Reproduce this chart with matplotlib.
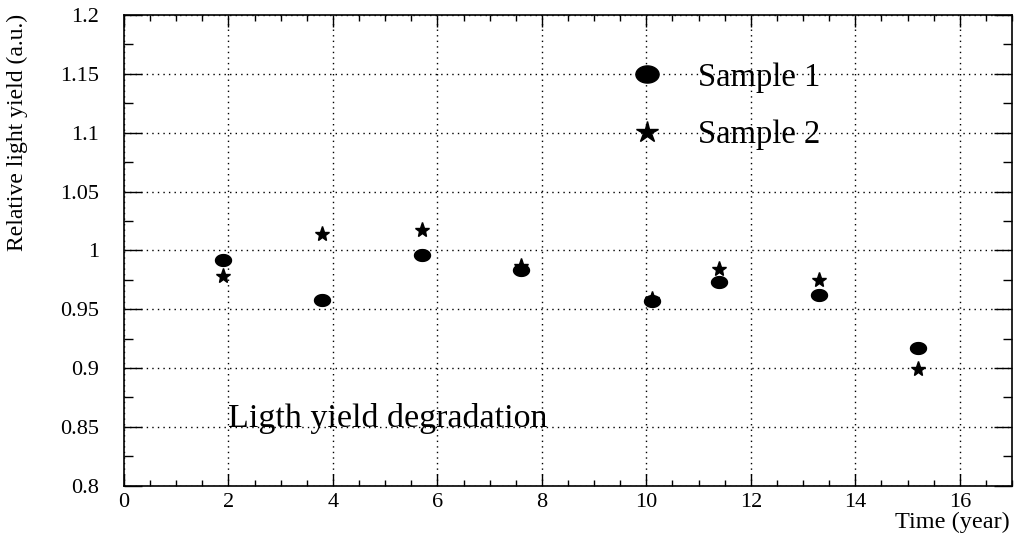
import numpy as np
import matplotlib
matplotlib.use("Agg")
import matplotlib.pyplot as plt
from matplotlib.path import Path
from matplotlib.ticker import MultipleLocator

plt.rcParams['font.family'] = ['Liberation Serif', 'DejaVu Serif']

# Data
time_years = [1.9, 3.8, 5.7, 7.6, 10.1, 11.4, 13.3, 15.2]
sample1 = [0.992, 0.958, 0.996, 0.983, 0.957, 0.973, 0.962, 0.917]
sample2 = [0.978, 1.014, 1.017, 0.987, 0.959, 0.984, 0.975, 0.899]
series_labels = ["Sample 1", "Sample 2"]
ytick_values = [0.8, 0.85, 0.9, 0.95, 1.0, 1.05, 1.1, 1.15, 1.2]
ytick_labels = ["0.8", "0.85", "0.9", "0.95", "1", "1.05", "1.1", "1.15", "1.2"]
annotation = "Ligth yield degradation"
xlabel = "Time (year)"
ylabel = "Relative light yield (a.u.)"

# Elliptical marker (wider than tall, as in the reference)
t = np.linspace(0, 2 * np.pi, 60)
ell = Path(np.column_stack([np.cos(t), 0.74 * np.sin(t)]), closed=True)

fig = plt.figure(figsize=(10.15, 5.38), dpi=100)
ax = fig.add_axes([124/1015, 1 - 485.7/538, (1012-124)/1015, (485.7-15)/538])

ax.plot(time_years, sample1, linestyle='none', marker=ell, markersize=11.5,
        color='black', label=series_labels[0], zorder=3)
ax.plot(time_years, sample2, linestyle='none', marker='*', markersize=11,
        color='black', label=series_labels[1], zorder=3)

ax.set_xlim(0, 17)
ax.set_ylim(0.8, 1.2)
ax.xaxis.set_major_locator(MultipleLocator(2))
ax.xaxis.set_minor_locator(MultipleLocator(0.5))
ax.yaxis.set_minor_locator(MultipleLocator(0.025))
ax.set_yticks(ytick_values)
ax.set_yticklabels(ytick_labels)

ax.grid(True, which='major', color='black', linestyle=(0, (1, 3)), linewidth=1.0)

ax.tick_params(axis='both', which='both', direction='in', top=True, right=True,
               colors='black', labelsize=16, width=1.0)
ax.tick_params(axis='y', which='major', length=13, pad=18)
ax.tick_params(axis='y', which='minor', length=6.5)
ax.tick_params(axis='x', which='major', length=8.6, pad=5)
ax.tick_params(axis='x', which='minor', length=4.3)
for s in ax.spines.values():
    s.set_linewidth(1.2)

ax.text(2.0, 0.85, annotation, fontsize=24.5, va='baseline', ha='left')

leg = ax.legend(loc='upper left', bbox_to_anchor=(0.571, 0.9), frameon=False,
                fontsize=23.5, markerscale=1.45, handlelength=1.0, handletextpad=1.04,
                labelspacing=0.84, borderpad=0, borderaxespad=0, numpoints=1)

fig.text(1010/1015, 1 - 522/538, xlabel, fontsize=17.5, ha='right', va='center')
fig.text(17/1015, 1 - 14/538, ylabel, fontsize=17, rotation=90, ha='center', va='top')

fig.savefig("out.png", dpi=100)
